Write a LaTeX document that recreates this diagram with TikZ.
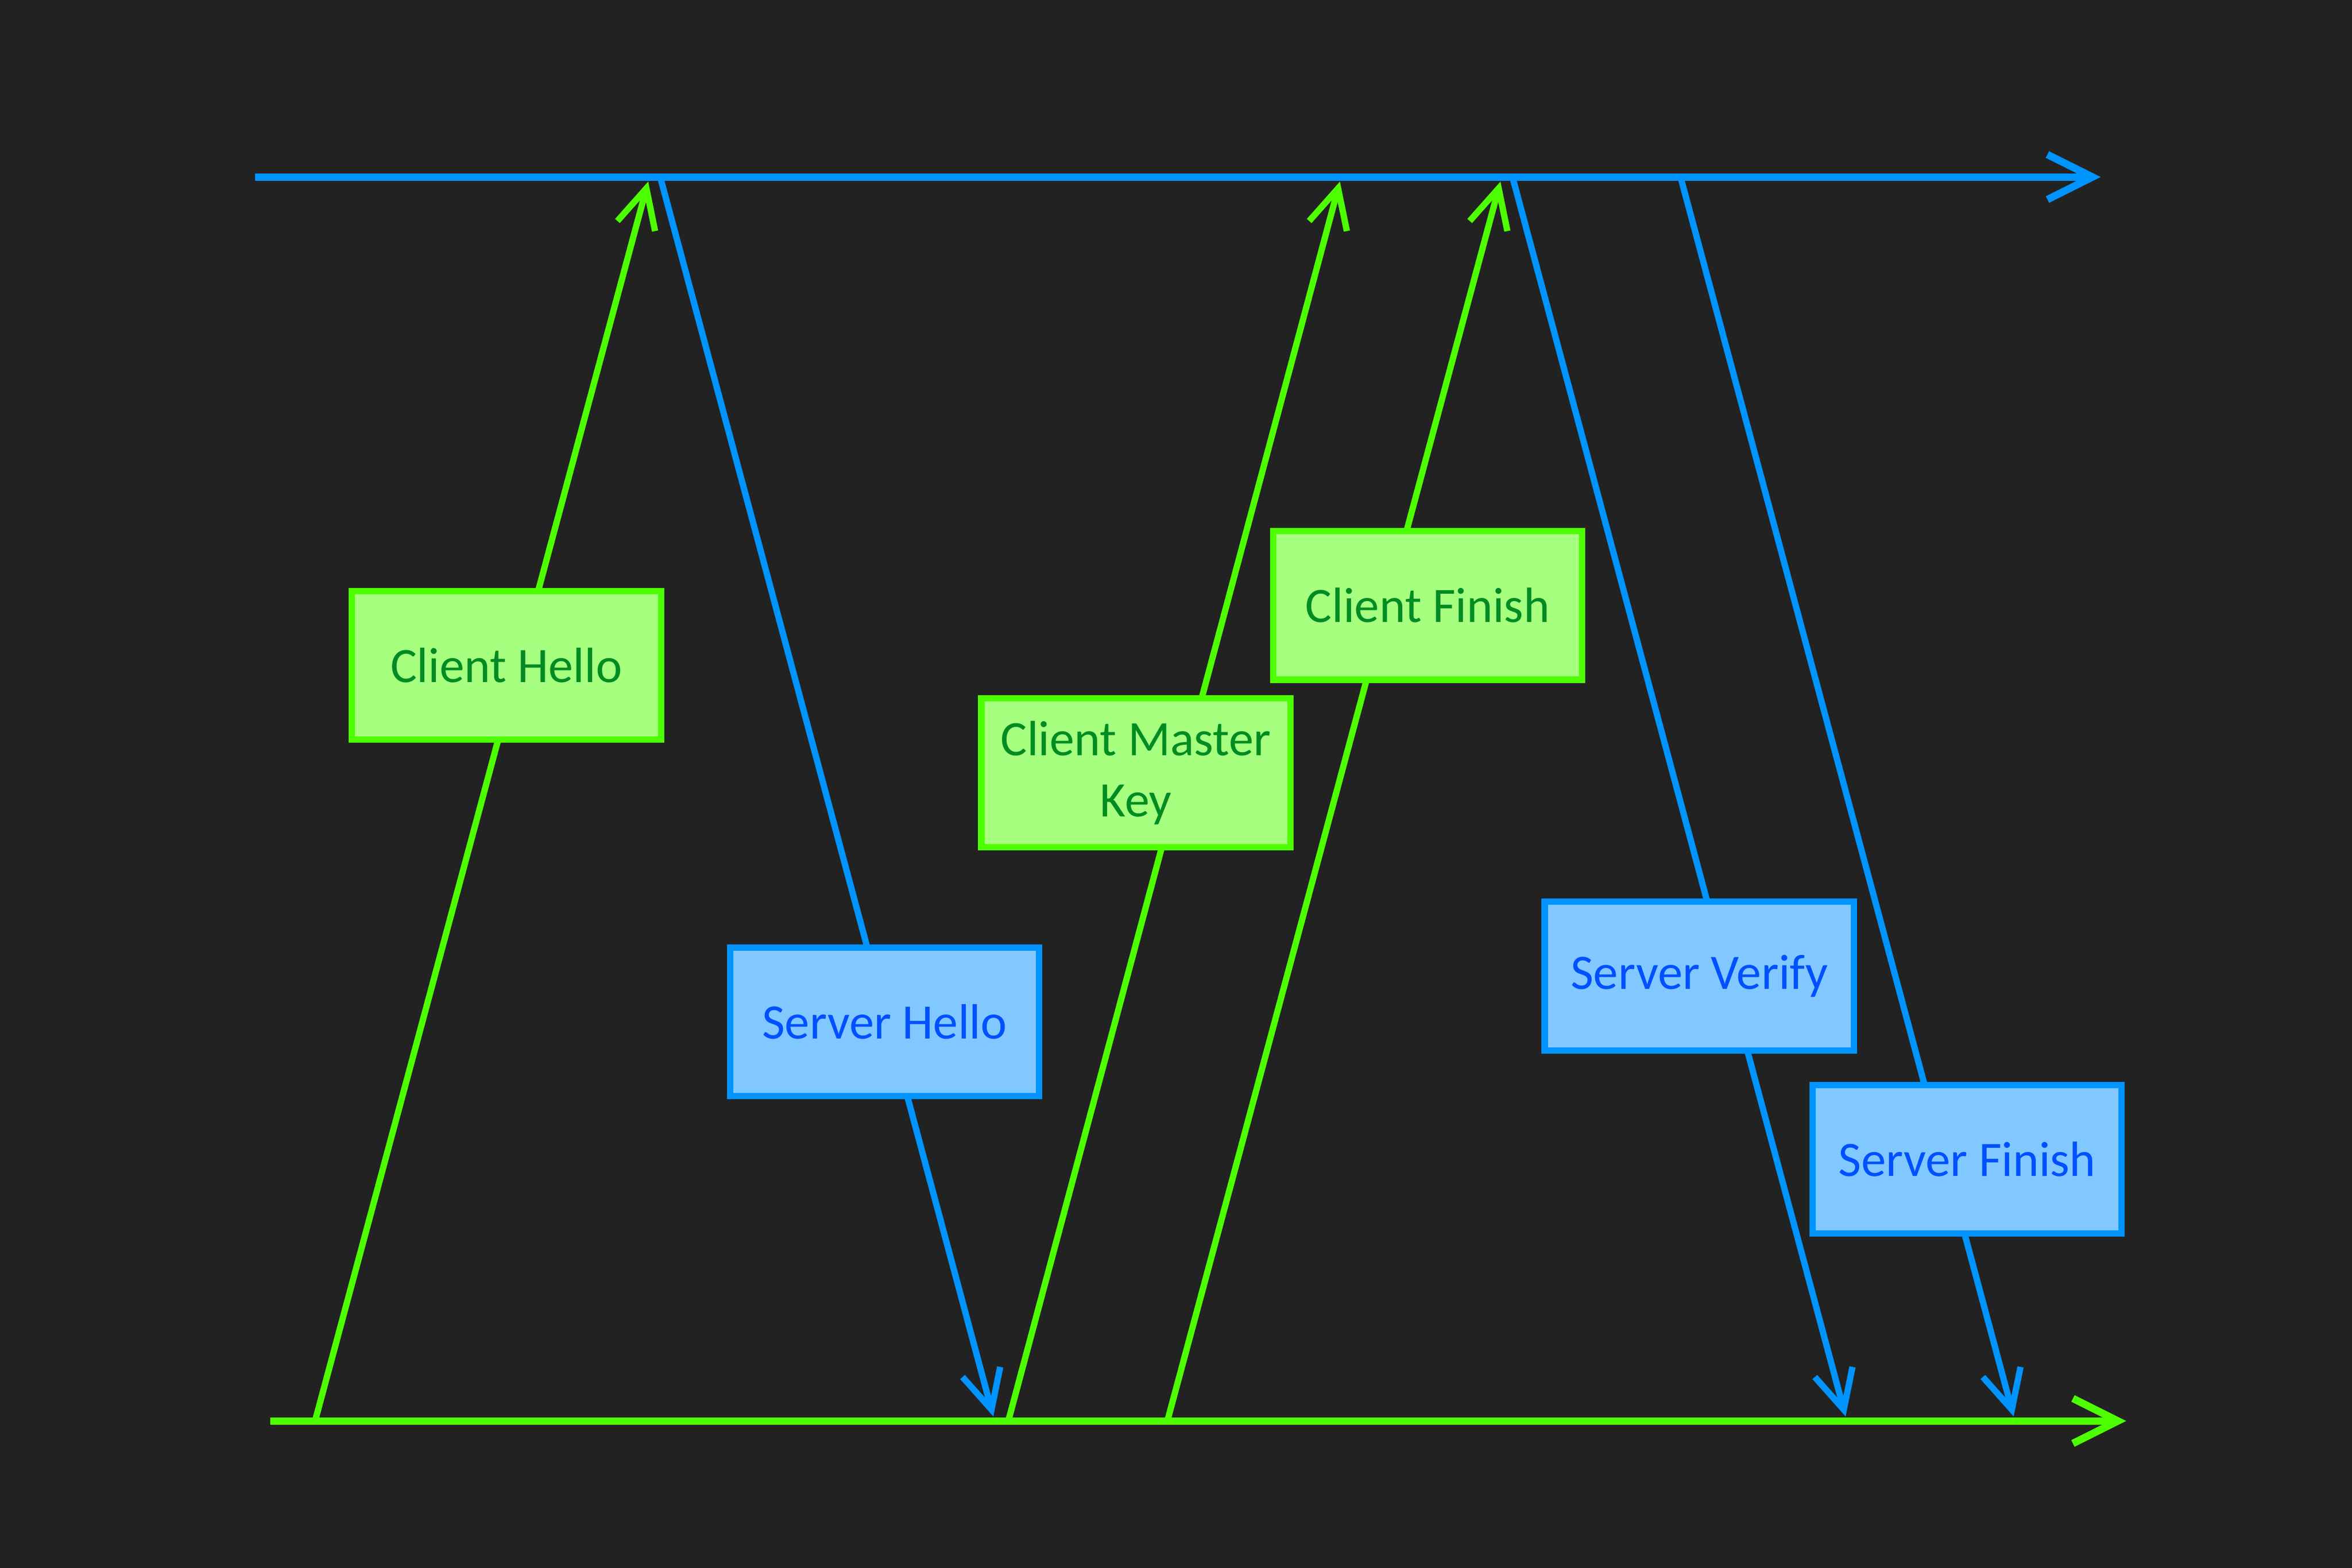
\documentclass[tikz,border=0pt]{standalone}
\usepackage{fontspec}
\setmainfont{Carlito}
\usetikzlibrary{arrows.meta}
\definecolor{bg}{HTML}{222222}
\definecolor{cline}{HTML}{4DFF00}
\definecolor{cfill}{HTML}{A6FF7F}
\definecolor{ctext}{HTML}{008C22}
\definecolor{sline}{HTML}{0094FF}
\definecolor{sfill}{HTML}{80C8FF}
\definecolor{stext}{HTML}{0050FF}

\begin{document}
\begin{tikzpicture}[
	box/.style={line width=1.2pt, minimum width=2.06cm, minimum height=0.99cm, inner sep=0pt, align=center, font=\fontsize{9.4}{11.6}\selectfont},
	client/.style={box, draw=cline, fill=cfill, text=ctext},
	server/.style={box, draw=sline, fill=sfill, text=stext},
	msg/.style={line width=1.2pt, -{Straight Barb[length=2.6mm,width=2.6mm]}},
	axis/.style={line width=1.4pt, -{Straight Barb[length=3mm,width=3mm]}}
]
\fill[bg] (0,0) rectangle (15.675,10.45);
\useasboundingbox (0,0) rectangle (15.675,10.45);
% time lines
\coordinate (s0) at (1.70,9.27);
\coordinate (s1) at (14.00,9.27);
\coordinate (c0) at (1.80,0.98);
\coordinate (c1) at (14.17,0.98);
\draw[axis, sline] (s0) -- (s1);
\draw[axis, cline] (c0) -- (c1);
% client side
\foreach \n/\a/\b in {ch/2.10/4.32, cmk/6.72/8.93, cf/7.78/10.00}{
	\coordinate (\n-from) at (\a,0.98);
	\coordinate (\n-to) at (\b,9.24);
	}
% server side
\foreach \n/\a/\b in {sh/4.40/6.62, sv/10.08/12.30, sf/11.20/13.42}{
	\coordinate (\n-from) at (\a,9.27);
	\coordinate (\n-to) at (\b,1.01);
	}
\foreach \n in {ch,cmk,cf}{
	\draw[msg, cline] (\n-from) -- (\n-to);
	}
\foreach \n in {sh,sv,sf}{
	\draw[msg, sline] (\n-from) -- (\n-to);
	}
\node[client] (ch) at (3.375,6.015){Client Hello};
\node[server] (sh) at (5.895,3.64){Server Hello};
\node[client] (cmk) at (7.57,5.30){Client Master\\Key};
\node[client] (cf) at (9.515,6.415){Client Finish};
\node[server] (sv) at (11.325,3.945){Server Verify};
\node[server] (sf) at (13.11,2.725){Server Finish};
\end{tikzpicture}
\end{document}
